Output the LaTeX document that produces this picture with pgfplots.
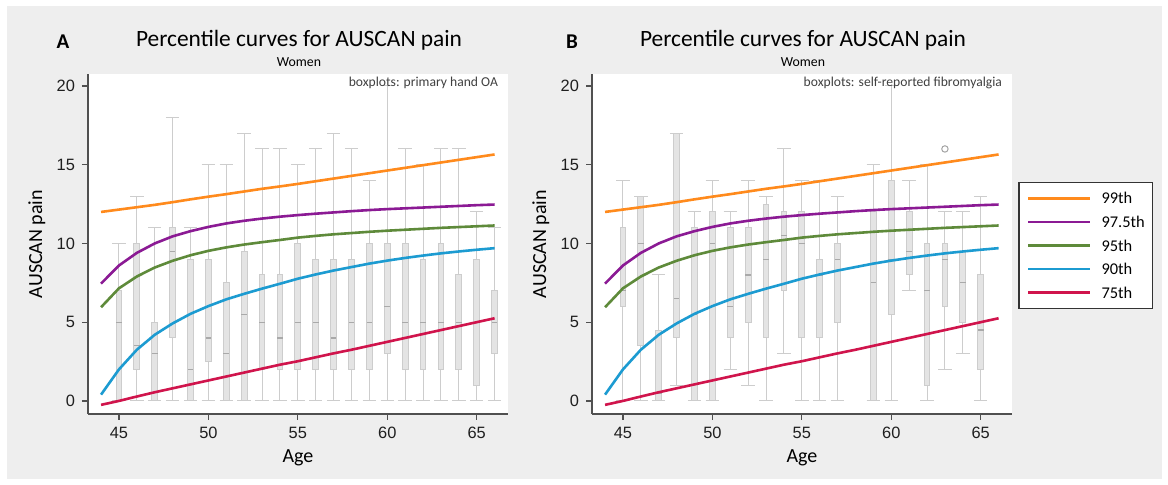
\documentclass[border=0pt]{standalone}
\usepackage{fontspec}
\setmainfont{Carlito}
\newfontfamily\arialf{Liberation Sans}
\usepackage{pgfplots}
\usepackage{pgfplotstable}
\pgfplotsset{compat=1.18}
\usepgfplotslibrary{statistics}

\definecolor{bg}{HTML}{EEEEEE}
\definecolor{c99}{HTML}{FF8A1C}
\definecolor{c975}{HTML}{8B1A94}
\definecolor{c95}{HTML}{5E8A3A}
\definecolor{c90}{HTML}{1C9BD1}
\definecolor{c75}{HTML}{D0144C}
\definecolor{boxfill}{HTML}{E4E4E4}
\definecolor{boxline}{HTML}{CDCDCD}
\definecolor{medline}{HTML}{A9A9A9}
\definecolor{axcol}{HTML}{505050}

\pgfplotstableread{
age p99 p975 p95 p90 p75
44 12.00 7.45 5.95 0.40 -0.25
45 12.15 8.60 7.15 2.00 0.00
46 12.30 9.40 7.90 3.25 0.28
47 12.45 10.00 8.47 4.20 0.55
48 12.62 10.45 8.90 4.92 0.80
49 12.80 10.78 9.25 5.53 1.05
50 12.97 11.05 9.53 6.02 1.30
51 13.13 11.27 9.75 6.45 1.55
52 13.30 11.44 9.93 6.80 1.80
53 13.47 11.58 10.08 7.13 2.05
54 13.62 11.70 10.22 7.44 2.30
55 13.78 11.80 10.37 7.76 2.52
56 13.95 11.89 10.48 8.03 2.77
57 14.12 11.97 10.58 8.28 3.02
58 14.29 12.05 10.66 8.50 3.25
59 14.46 12.12 10.74 8.72 3.50
60 14.63 12.18 10.81 8.91 3.75
61 14.80 12.23 10.87 9.08 4.00
62 14.97 12.28 10.93 9.23 4.25
63 15.14 12.33 10.99 9.37 4.50
64 15.31 12.38 11.04 9.49 4.75
65 15.48 12.43 11.09 9.60 5.00
66 15.65 12.47 11.14 9.70 5.25
}\curves

% age lowwhisker lowquart median upquart upwhisker
\newcommand{\bx}[6]{\addplot+[forget plot, draw=boxline, mark=none, boxplot prepared={draw position=#1, lower whisker=#2, lower quartile=#3, median=#4, upper quartile=#5, upper whisker=#6}] coordinates {};}

\pgfplotsset{
  panel/.style={
    scale only axis, width=210pt, height=170pt,
    xmin=43.27, xmax=66.75, ymin=-0.83, ymax=20.76,
    axis x line*=bottom, axis y line*=left,
    axis line style={axcol, line width=0.7pt},
    xtick={45,50,...,65}, ytick={0,5,...,20},
    tick align=outside, major tick length=3pt,
    tick style={axcol, line width=0.6pt},
    /pgf/number format/assume math mode=true,
    tick label style={font=\arialf\fontsize{8.2}{9}\selectfont, text=black!88},
    xlabel={Age}, ylabel={AUSCAN pain},
    label style={font=\fontsize{9}{10}\selectfont, text=black!88},
    every axis y label/.style={at={(axis description cs:-0.122,0.5)}, rotate=90, anchor=center},
    every axis x label/.style={at={(axis description cs:0.5,-0.13)}, anchor=center},
    axis background/.style={fill=white},
    boxplot/draw direction=y,
    boxplot/box extend=0.32,
    boxplot/whisker extend=0.75,
    boxplot/every box/.style={draw=boxline, fill=boxfill, line width=0.5pt},
    boxplot/every whisker/.style={draw=boxline, line width=0.5pt},
    boxplot/every median/.style={draw=medline, line width=0.6pt},
  },
  crv/.style={line width=1.3pt, mark=none},
}

\begin{document}
\begin{tikzpicture}
\useasboundingbox (0pt,0pt) rectangle (584pt,-242.5pt);
\fill[white] (0pt,0pt) rectangle (584pt,-242.5pt);
\fill[bg] (3.5pt,-3pt) rectangle (581pt,-239.5pt);

% ---------------- Panel A ----------------
\begin{axis}[panel, at={(44pt,-207pt)}, anchor=south west]
\bx{45}{0}{0}{5}{7}{10}
\bx{46}{0}{2}{3.5}{10}{13}
\bx{47}{0}{0}{3}{5}{11}
\bx{48}{0}{4}{9.5}{11}{18}
\bx{49}{0}{0}{2}{9}{11}
\bx{50}{0}{2.5}{4}{9}{15}
\bx{51}{0}{0}{3}{7.5}{15}
\bx{52}{0}{0}{5.5}{9.5}{17}
\bx{53}{0}{2}{5}{8}{16}
\bx{54}{0}{2}{4}{8}{16}
\bx{55}{0}{2}{5}{10}{15}
\bx{56}{0}{2}{5}{9}{16}
\bx{57}{0}{2}{4}{9}{17}
\bx{58}{0}{2}{5}{9}{16}
\bx{59}{0}{2}{5}{10}{14}
\bx{60}{0}{3}{6}{10}{20}
\bx{61}{0}{2}{5}{10}{16}
\bx{62}{0}{2}{5}{9}{15}
\bx{63}{0}{2}{5}{10}{16}
\bx{64}{0}{2}{5}{8}{16}
\bx{65}{0}{1}{5}{9}{12}
\bx{66}{0}{3}{5}{7}{11}
\addplot[crv, c99]  table[x=age, y=p99]  {\curves};
\addplot[crv, c975] table[x=age, y=p975] {\curves};
\addplot[crv, c95]  table[x=age, y=p95]  {\curves};
\addplot[crv, c90]  table[x=age, y=p90]  {\curves};
\addplot[crv, c75]  table[x=age, y=p75]  {\curves};
\end{axis}

% ---------------- Panel B ----------------
\begin{axis}[panel, at={(296pt,-207pt)}, anchor=south west,
  legend style={at={(1.015,0.6815)}, anchor=north west, draw=black!80, line width=0.6pt,
    fill=white, font=\fontsize{8.2}{9.5}\selectfont, inner xsep=4pt, inner ysep=5pt,
    row sep=6.3pt, column sep=5pt, nodes={inner sep=0pt, text height=5.5pt, text depth=0pt}},
  legend cell align=left,
  legend image code/.code={\draw[#1] (0pt,0pt) -- (31pt,0pt);}]
\bx{45}{0}{6}{7}{11}{14}
\bx{46}{0}{3.5}{10}{13}{13}
\bx{47}{0}{0}{0.5}{4.5}{8}
\bx{48}{1}{4}{6.5}{17}{17}
\bx{49}{0}{0}{5.5}{11}{12}
\bx{50}{0}{0}{10}{12}{14}
\bx{51}{2}{4}{6}{11}{12}
\bx{52}{1}{5}{8}{11}{14}
\bx{53}{0}{4}{9}{12.5}{13}
\bx{54}{3}{7}{10.5}{12}{16}
\bx{55}{0}{4}{10}{12}{14}
\bx{56}{0}{4}{8}{9}{14}
\bx{57}{0}{5}{9}{10}{13}
\bx{59}{0}{0}{7.5}{12}{15}
\bx{60}{0}{5.5}{9}{14}{20}
\bx{61}{7}{8}{9.5}{12}{14}
\bx{62}{0}{1}{7}{10}{15}
\bx{63}{2}{6}{9}{10}{12}
\bx{64}{3}{5}{7.5}{9.5}{12}
\bx{65}{0}{2}{4.5}{8}{13}
\addplot[forget plot, only marks, mark=o, mark size=1.6pt, draw=boxline!80!black, line width=0.5pt] coordinates {(63,16)};
\addplot[crv, c99]  table[x=age, y=p99]  {\curves};
\addlegendentry{99th}
\addplot[crv, c975] table[x=age, y=p975] {\curves};
\addlegendentry{97.5th}
\addplot[crv, c95]  table[x=age, y=p95]  {\curves};
\addlegendentry{95th}
\addplot[crv, c90]  table[x=age, y=p90]  {\curves};
\addlegendentry{90th}
\addplot[crv, c75]  table[x=age, y=p75]  {\curves};
\addlegendentry{75th}
\end{axis}

% ---------------- Titles ----------------
\node[font=\bfseries\fontsize{10.5}{12}\selectfont] at (31.5pt,-21pt) {A};
\node[font=\fontsize{11.7}{13}\selectfont] at (149.5pt,-20pt) {Percentile curves for AUSCAN pain};
\node[font=\fontsize{6.9}{8}\selectfont] at (149.5pt,-31pt) {Women};
\node[font=\fontsize{6.8}{8}\selectfont, anchor=east, text=black!75] at (252.5pt,-41.5pt) {boxplots: primary hand OA};

\node[font=\bfseries\fontsize{10.5}{12}\selectfont] at (286pt,-21pt) {B};
\node[font=\fontsize{11.7}{13}\selectfont] at (401.5pt,-20pt) {Percentile curves for AUSCAN pain};
\node[font=\fontsize{6.9}{8}\selectfont] at (401.5pt,-31pt) {Women};
\node[font=\fontsize{6.8}{8}\selectfont, anchor=east, text=black!75] at (504.5pt,-41.5pt) {boxplots: self-reported fibromyalgia};
\end{tikzpicture}
\end{document}
